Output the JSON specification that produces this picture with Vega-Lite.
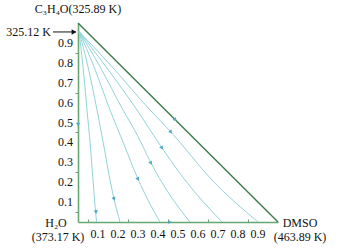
{
  "$schema": "https://vega.github.io/schema/vega-lite/v6.json",
  "width": 200,
  "height": 199,
  "autosize": {"type": "none"},
  "padding": {"left": 78, "top": 23, "right": 59, "bottom": 29},
  "background": "white",
  "config": {
    "view": {"stroke": null},
    "font": "Liberation Serif, serif",
    "text": {"font": "Liberation Serif, serif"},
    "axis": {"labels": false, "grid": false, "title": null, "domainColor": "#66a874", "domainWidth": 1.6, "tickColor": "#6a9a78"}
  },
  "datasets": {
    "curves": [
      {"curve": "c1", "k": 0, "x": 0.005, "y": 0.958},
      {"curve": "c1", "k": 1, "x": 0.025, "y": 0.78},
      {"curve": "c1", "k": 2, "x": 0.045, "y": 0.563},
      {"curve": "c1", "k": 3, "x": 0.062, "y": 0.38},
      {"curve": "c1", "k": 4, "x": 0.075, "y": 0.211},
      {"curve": "c1", "k": 5, "x": 0.088, "y": 0.05},
      {"curve": "c1", "k": 6, "x": 0.093, "y": 0.0},
      {"curve": "c2", "k": 0, "x": 0.005, "y": 0.958},
      {"curve": "c2", "k": 1, "x": 0.05, "y": 0.78},
      {"curve": "c2", "k": 2, "x": 0.095, "y": 0.563},
      {"curve": "c2", "k": 3, "x": 0.135, "y": 0.35},
      {"curve": "c2", "k": 4, "x": 0.16, "y": 0.211},
      {"curve": "c2", "k": 5, "x": 0.18, "y": 0.116},
      {"curve": "c2", "k": 6, "x": 0.21, "y": 0.0},
      {"curve": "c3", "k": 0, "x": 0.005, "y": 0.958},
      {"curve": "c3", "k": 1, "x": 0.08, "y": 0.78},
      {"curve": "c3", "k": 2, "x": 0.16, "y": 0.563},
      {"curve": "c3", "k": 3, "x": 0.23, "y": 0.39},
      {"curve": "c3", "k": 4, "x": 0.30, "y": 0.216},
      {"curve": "c3", "k": 5, "x": 0.35, "y": 0.11},
      {"curve": "c3", "k": 6, "x": 0.41, "y": 0.0},
      {"curve": "c4", "k": 0, "x": 0.005, "y": 0.958},
      {"curve": "c4", "k": 1, "x": 0.11, "y": 0.78},
      {"curve": "c4", "k": 2, "x": 0.225, "y": 0.563},
      {"curve": "c4", "k": 3, "x": 0.30, "y": 0.43},
      {"curve": "c4", "k": 4, "x": 0.365, "y": 0.296},
      {"curve": "c4", "k": 5, "x": 0.45, "y": 0.15},
      {"curve": "c4", "k": 6, "x": 0.56, "y": 0.0},
      {"curve": "c5", "k": 0, "x": 0.005, "y": 0.958},
      {"curve": "c5", "k": 1, "x": 0.14, "y": 0.78},
      {"curve": "c5", "k": 2, "x": 0.295, "y": 0.563},
      {"curve": "c5", "k": 3, "x": 0.42, "y": 0.372},
      {"curve": "c5", "k": 4, "x": 0.535, "y": 0.211},
      {"curve": "c5", "k": 5, "x": 0.72, "y": 0.0},
      {"curve": "c6", "k": 0, "x": 0.005, "y": 0.958},
      {"curve": "c6", "k": 1, "x": 0.17, "y": 0.78},
      {"curve": "c6", "k": 2, "x": 0.36, "y": 0.563},
      {"curve": "c6", "k": 3, "x": 0.465, "y": 0.452},
      {"curve": "c6", "k": 4, "x": 0.67, "y": 0.211},
      {"curve": "c6", "k": 5, "x": 0.9, "y": 0.0}
    ],
    "edge": [
      {"k": 0, "x": 0, "y": 1},
      {"k": 1, "x": 1, "y": 0}
    ],
    "arrows": [
      {"x": 0.09, "y": 0.05, "angle": -6},
      {"x": 0.18, "y": 0.116, "angle": -15},
      {"x": 0.30, "y": 0.216, "angle": -28},
      {"x": 0.365, "y": 0.296, "angle": -34},
      {"x": 0.42, "y": 0.372, "angle": -36},
      {"x": 0.465, "y": 0.452, "angle": -42},
      {"x": 0.487, "y": 0.513, "angle": -45},
      {"x": 0.46, "y": 0.0, "angle": -90},
      {"x": 0.0, "y": 0.49, "angle": 0}
    ],
    "ticklabels": [
      {"v": 0.1, "t": "0.1"}, {"v": 0.2, "t": "0.2"}, {"v": 0.3, "t": "0.3"},
      {"v": 0.4, "t": "0.4"}, {"v": 0.5, "t": "0.5"}, {"v": 0.6, "t": "0.6"},
      {"v": 0.7, "t": "0.7"}, {"v": 0.8, "t": "0.8"}, {"v": 0.9, "t": "0.9"}
    ],
    "labels": [
      {"x": 0, "y": 1, "text": "C₃H₄O(325.89 K)", "pos": "top"},
      {"x": 0, "y": 0, "text": "H₂O", "pos": "bl1"},
      {"x": 0, "y": 0, "text": "(373.17 K)", "pos": "bl2"},
      {"x": 1, "y": 0, "text": "DMSO", "pos": "br1"},
      {"x": 1, "y": 0, "text": "(463.89 K)", "pos": "br2"}
    ],
    "azeo": [{"x": 0, "y": 0.955, "text": "325.12 K"}]
  },
  "layer": [
    {
      "data": {"name": "curves"},
      "mark": {"type": "line", "interpolate": "monotone", "stroke": "#94d2da", "strokeWidth": 1},
      "encoding": {
        "x": {"field": "x", "type": "quantitative", "scale": {"domain": [0, 1], "nice": false}, "axis": {"values": [0.05,0.1,0.15,0.2,0.25,0.3,0.35,0.4,0.45,0.5,0.55,0.6,0.65,0.7,0.75,0.8,0.85,0.9,0.95], "tickSize": -3}},
        "y": {"field": "y", "type": "quantitative", "scale": {"domain": [0, 1], "nice": false}, "axis": {"values": [0.05,0.1,0.15,0.2,0.25,0.3,0.35,0.4,0.45,0.5,0.55,0.6,0.65,0.7,0.75,0.8,0.85,0.9,0.95], "tickSize": 3}},
        "detail": {"field": "curve"},
        "order": {"field": "k", "type": "quantitative"}
      }
    },
    {
      "data": {"name": "edge"},
      "mark": {"type": "line", "stroke": "#3d7a4a", "strokeWidth": 1.4, "clip": false},
      "encoding": {
        "x": {"field": "x", "type": "quantitative"},
        "y": {"field": "y", "type": "quantitative"},
        "order": {"field": "k", "type": "quantitative"}
      }
    },
    {
      "data": {"name": "arrows"},
      "mark": {"type": "point", "shape": "triangle-down", "filled": true, "color": "#4fa9c2", "size": 18, "opacity": 1, "clip": false},
      "encoding": {
        "x": {"field": "x", "type": "quantitative"},
        "y": {"field": "y", "type": "quantitative"},
        "angle": {"field": "angle", "type": "quantitative", "scale": null}
      }
    },
    {
      "data": {"name": "ticklabels"},
      "mark": {"type": "text", "fontSize": 12, "color": "#111", "dy": 12, "align": "center", "baseline": "middle"},
      "encoding": {
        "x": {"field": "v", "type": "quantitative"},
        "y": {"datum": 0},
        "text": {"field": "t"}
      }
    },
    {
      "data": {"name": "ticklabels"},
      "mark": {"type": "text", "fontSize": 12, "color": "#111", "dx": -5, "align": "right", "baseline": "middle"},
      "encoding": {
        "x": {"datum": 0},
        "y": {"field": "v", "type": "quantitative"},
        "text": {"field": "t"}
      }
    },
    {
      "data": {"name": "labels"},
      "transform": [{"filter": "datum.pos == 'top'"}],
      "mark": {"type": "text", "fontSize": 12, "color": "#111", "dy": -14, "align": "center"},
      "encoding": {
        "x": {"field": "x", "type": "quantitative"},
        "y": {"field": "y", "type": "quantitative"},
        "text": {"field": "text"}
      }
    },
    {
      "data": {"name": "labels"},
      "transform": [{"filter": "datum.pos == 'bl1'"}],
      "mark": {"type": "text", "fontSize": 12, "color": "#111", "dx": -22, "dy": 1, "align": "center"},
      "encoding": {
        "x": {"field": "x", "type": "quantitative"},
        "y": {"field": "y", "type": "quantitative"},
        "text": {"field": "text"}
      }
    },
    {
      "data": {"name": "labels"},
      "transform": [{"filter": "datum.pos == 'bl2'"}],
      "mark": {"type": "text", "fontSize": 12, "color": "#111", "dx": -20, "dy": 15, "align": "center"},
      "encoding": {
        "x": {"field": "x", "type": "quantitative"},
        "y": {"field": "y", "type": "quantitative"},
        "text": {"field": "text"}
      }
    },
    {
      "data": {"name": "labels"},
      "transform": [{"filter": "datum.pos == 'br1'"}],
      "mark": {"type": "text", "fontSize": 12, "color": "#111", "dx": 22, "dy": 1, "align": "center"},
      "encoding": {
        "x": {"field": "x", "type": "quantitative"},
        "y": {"field": "y", "type": "quantitative"},
        "text": {"field": "text"}
      }
    },
    {
      "data": {"name": "labels"},
      "transform": [{"filter": "datum.pos == 'br2'"}],
      "mark": {"type": "text", "fontSize": 12, "color": "#111", "dx": 22, "dy": 15, "align": "center"},
      "encoding": {
        "x": {"field": "x", "type": "quantitative"},
        "y": {"field": "y", "type": "quantitative"},
        "text": {"field": "text"}
      }
    },
    {
      "data": {"name": "azeo"},
      "mark": {"type": "text", "fontSize": 12, "color": "#111", "dx": -27, "align": "right", "baseline": "middle"},
      "encoding": {
        "x": {"field": "x", "type": "quantitative"},
        "y": {"field": "y", "type": "quantitative"},
        "text": {"field": "text"}
      }
    },
    {
      "data": {"name": "azeo"},
      "mark": {"type": "rule", "color": "#111", "strokeWidth": 1, "clip": false},
      "encoding": {
        "x": {"datum": -0.125},
        "x2": {"datum": -0.01},
        "y": {"field": "y", "type": "quantitative"}
      }
    },
    {
      "data": {"name": "azeo"},
      "mark": {"type": "point", "shape": "triangle-right", "filled": true, "color": "#111", "size": 30, "opacity": 1, "clip": false, "xOffset": -4},
      "encoding": {
        "x": {"field": "x", "type": "quantitative"},
        "y": {"field": "y", "type": "quantitative"}
      }
    }
  ]
}
